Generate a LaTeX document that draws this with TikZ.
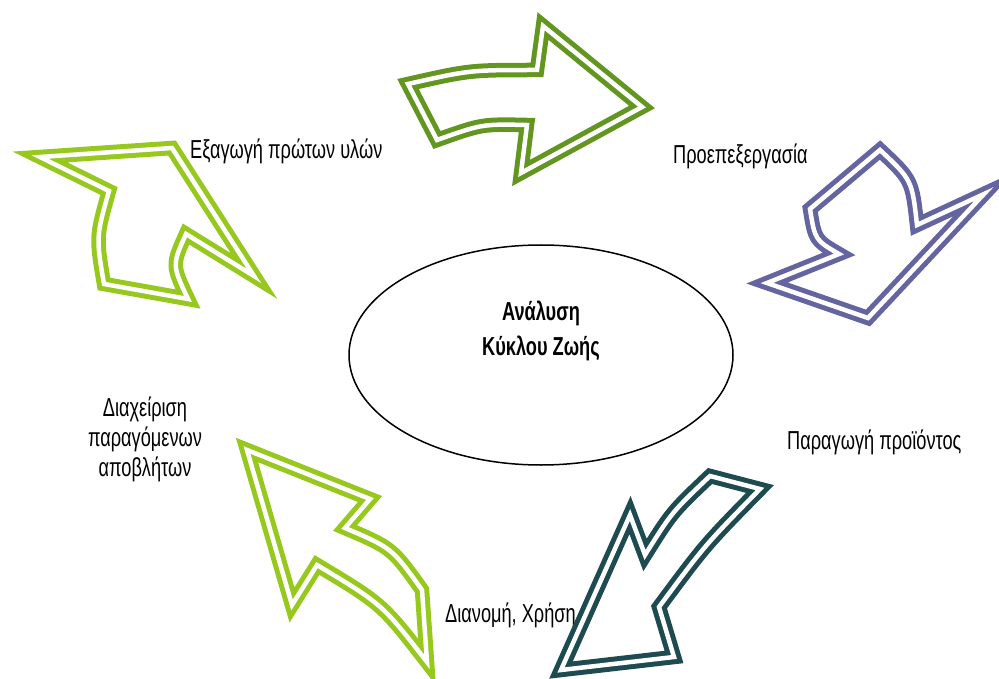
\documentclass[tikz,border=0pt]{standalone}
\usepackage{fontspec}
\setmainfont{Liberation Sans}[FakeStretch=0.7]
\usetikzlibrary{shapes.geometric}
\definecolor{leafgreen}{RGB}{98,150,32}
\definecolor{slateviolet}{RGB}{100,100,160}
\definecolor{deepteal}{RGB}{30,75,80}
\definecolor{limegreen}{RGB}{150,200,30}

\begin{document}
\begin{tikzpicture}[x=1pt, y=-1pt,
	flow/.style={line width=5pt, double=white, double distance=4.5pt},
	lbl/.style={inner sep=0pt, font=\fontsize{26}{30}\selectfont}]
			\useasboundingbox (0,0) rectangle (999,679);
			\node[ellipse, draw, line width=1.5pt, minimum width=384pt, minimum height=220pt] (lca) at (541,355) {};
			\node[inner sep=0pt, align=center, font=\bfseries\fontsize{26}{35}\selectfont] (lcatext) at (541,331) {Ανάλυση\\Κύκλου Ζωής};
			\node[lbl, anchor=base west] (extract) at (190,159) {Εξαγωγή πρώτων υλών};
			\node[lbl, anchor=base west] (pre) at (673,164) {Προεπεξεργασία};
			\node[lbl, anchor=base west] (prod) at (787,449) {Παραγωγή προϊόντος};
			\node[lbl, anchor=base west] (dist) at (445,622) {Διανομή, Χρήση};
			\node[lbl, align=center] (waste) at (145,439) {Διαχείριση\\παραγόμενων\\αποβλήτων};
			\draw[flow, leafgreen] (408,84) .. controls (470,70) .. (537,70) -- (543,26) -- (642,107) -- (521,173) -- (527,125) .. controls (482,124) .. (437,140) -- cycle;
			\draw[flow, slateviolet] (880,150) .. controls (912,180) .. (917,225) -- (984,194) -- (868,318) -- (767,283) -- (839,254) .. controls (815,240) .. (810,209) -- cycle;
			\draw[flow, deepteal] (760,489) .. controls (705,545) .. (659,607) -- (674,657) -- (561,670) -- (630,515) -- (645,555) .. controls (672,512) .. (710,476) -- cycle;
			\draw[flow, limegreen] (247,450) -- (370,499) -- (345,528) .. controls (392,548) .. (422,590) -- (427,662) .. controls (382,604) .. (317,565) -- (292,605) -- cycle;
			\draw[flow, limegreen] (40,157) -- (172,148) -- (254,276) -- (186,234) .. controls (172,265) .. (188,299) -- (104,284) .. controls (96,237) .. (109,191) -- cycle;
		\end{tikzpicture}
\end{document}
